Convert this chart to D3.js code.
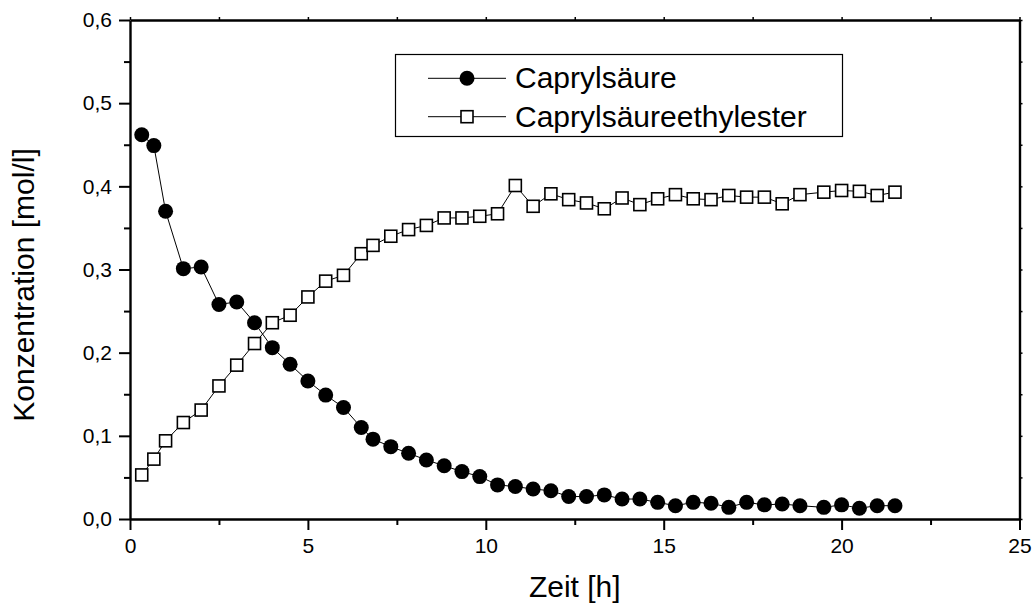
<!DOCTYPE html>
<html><head><meta charset="utf-8">
<script src="https://cdn.jsdelivr.net/npm/d3@7"></script>
<style>
html,body{margin:0;padding:0;background:#fff;}
text{font-family:Arial,"Liberation Sans",sans-serif;fill:#000;}
.axis path.domain{stroke:#000;stroke-width:2.4px;}
.axis .tick line{stroke:#000;stroke-width:2px;}
.axis .tick text{font-size:21px;fill:#000;font-family:Arial,"Liberation Sans",sans-serif;}
</style></head>
<body>
<svg id="chart" width="1036" height="603"></svg>
<script>
const times = [0.33,0.67,1.0,1.5,2.0,2.5,3.0,3.5,4.0,4.5,5.0,5.5,6.0,6.5,6.83,7.33,7.83,8.33,8.83,9.33,9.83,10.33,10.83,11.33,11.83,12.33,12.83,13.33,13.83,14.33,14.83,15.33,15.83,16.33,16.83,17.33,17.83,18.33,18.83,19.5,20.0,20.5,21.0,21.5];
const caprylsaeure = [0.462,0.449,0.370,0.301,0.303,0.258,0.261,0.236,0.206,0.186,0.166,0.149,0.134,0.110,0.096,0.087,0.079,0.071,0.064,0.057,0.051,0.041,0.039,0.036,0.034,0.027,0.027,0.029,0.024,0.024,0.020,0.016,0.020,0.019,0.014,0.020,0.017,0.018,0.016,0.014,0.017,0.013,0.016,0.016];
const ethylester = [0.053,0.072,0.094,0.116,0.131,0.160,0.185,0.211,0.236,0.245,0.267,0.286,0.293,0.319,0.329,0.340,0.348,0.353,0.362,0.362,0.364,0.367,0.401,0.376,0.391,0.384,0.380,0.373,0.386,0.378,0.385,0.390,0.385,0.384,0.389,0.387,0.387,0.379,0.390,0.393,0.395,0.394,0.389,0.393];
const seriesNames = ["Caprylsäure","Caprylsäureethylester"];
const xTicks = [0,5,10,15,20,25];
const xMinorTicks = [2.5,7.5,12.5,17.5,22.5];
const yTicks = [0,0.1,0.2,0.3,0.4,0.5,0.6];
const yMinorTicks = [0.05,0.15,0.25,0.35,0.45,0.55];
const xTitle = "Zeit [h]";
const yTitle = "Konzentration [mol/l]";

const svg = d3.select("#chart");
const x = d3.scaleLinear().domain([0,25]).range([130,1019.5]);
const y = d3.scaleLinear().domain([0,0.6]).range([519,20]);
const fmtY = v => d3.format(".1f")(v).replace(".",",");

// bottom axis (major + minor)
const gB = svg.append("g").attr("class","axis").attr("transform",`translate(0,${y(0)})`);
gB.call(d3.axisBottom(x).tickValues(xTicks).tickSize(11).tickSizeOuter(0).tickPadding(8).tickFormat(d3.format("d")));
const gBm = svg.append("g").attr("class","axis").attr("transform",`translate(0,${y(0)})`);
gBm.call(d3.axisBottom(x).tickValues(xMinorTicks).tickSize(6).tickFormat(""));
gBm.select(".domain").remove();
// left axis
const gL = svg.append("g").attr("class","axis").attr("transform",`translate(${x(0)},0)`);
gL.call(d3.axisLeft(y).tickValues(yTicks).tickSize(11).tickSizeOuter(0).tickPadding(7).tickFormat(fmtY));
const gLm = svg.append("g").attr("class","axis").attr("transform",`translate(${x(0)},0)`);
gLm.call(d3.axisLeft(y).tickValues(yMinorTicks).tickSize(6).tickFormat(""));
gLm.select(".domain").remove();
// top axis
const gT = svg.append("g").attr("class","axis").attr("transform",`translate(0,${y(0.6)})`);
gT.call(d3.axisTop(x).tickValues(xTicks.concat(xMinorTicks)).tickSize(3).tickSizeOuter(0).tickFormat(""));
// right axis
const gR = svg.append("g").attr("class","axis").attr("transform",`translate(${x(25)},0)`);
gR.call(d3.axisRight(y).tickValues(yTicks.concat(yMinorTicks)).tickSize(3).tickSizeOuter(0).tickFormat(""));
[gT,gR].forEach(g=>g.selectAll(".tick line").style("stroke-width","1.5px"));

// titles
svg.append("text").attr("x",(x(0)+x(25))/2).attr("y",597).attr("text-anchor","middle").attr("font-size","30px").text(xTitle);
svg.append("text").attr("transform","translate(34,285) rotate(-90)").attr("text-anchor","middle").attr("font-size","30px").text(yTitle);

const line = d3.line().x(d=>x(d[0])).y(d=>y(d[1]));
const dA = times.map((t,i)=>[t,caprylsaeure[i]]);
const dB = times.map((t,i)=>[t,ethylester[i]]);

svg.append("path").attr("d",line(dB)).attr("fill","none").attr("stroke","#000").attr("stroke-width",1);
svg.append("path").attr("d",line(dA)).attr("fill","none").attr("stroke","#000").attr("stroke-width",1);

svg.append("g").selectAll("rect").data(dB).join("rect")
  .attr("x",d=>x(d[0])-6).attr("y",d=>y(d[1])-6).attr("width",12).attr("height",12)
  .attr("fill","#fff").attr("stroke","#000").attr("stroke-width",1.6);
svg.append("g").selectAll("circle").data(dA).join("circle")
  .attr("cx",d=>x(d[0])).attr("cy",d=>y(d[1])).attr("r",7.5).attr("fill","#000");

// legend
const lg = svg.append("g");
lg.append("rect").attr("x",395.5).attr("y",54.5).attr("width",447).attr("height",82).attr("fill","#fff").attr("stroke","#000").attr("stroke-width",1.2);
const rows = [78.3,116.7];
rows.forEach((ry,i)=>{
  lg.append("line").attr("x1",428).attr("x2",506).attr("y1",ry).attr("y2",ry).attr("stroke","#000").attr("stroke-width",1);
  if(i===0) lg.append("circle").attr("cx",467).attr("cy",ry).attr("r",7.5).attr("fill","#000");
  else lg.append("rect").attr("x",461).attr("y",ry-6).attr("width",12).attr("height",12).attr("fill","#fff").attr("stroke","#000").attr("stroke-width",1.6);
  lg.append("text").attr("x",515).attr("y",ry+10).attr("font-size","30px").text(seriesNames[i]);
});
</script>
</body></html>
